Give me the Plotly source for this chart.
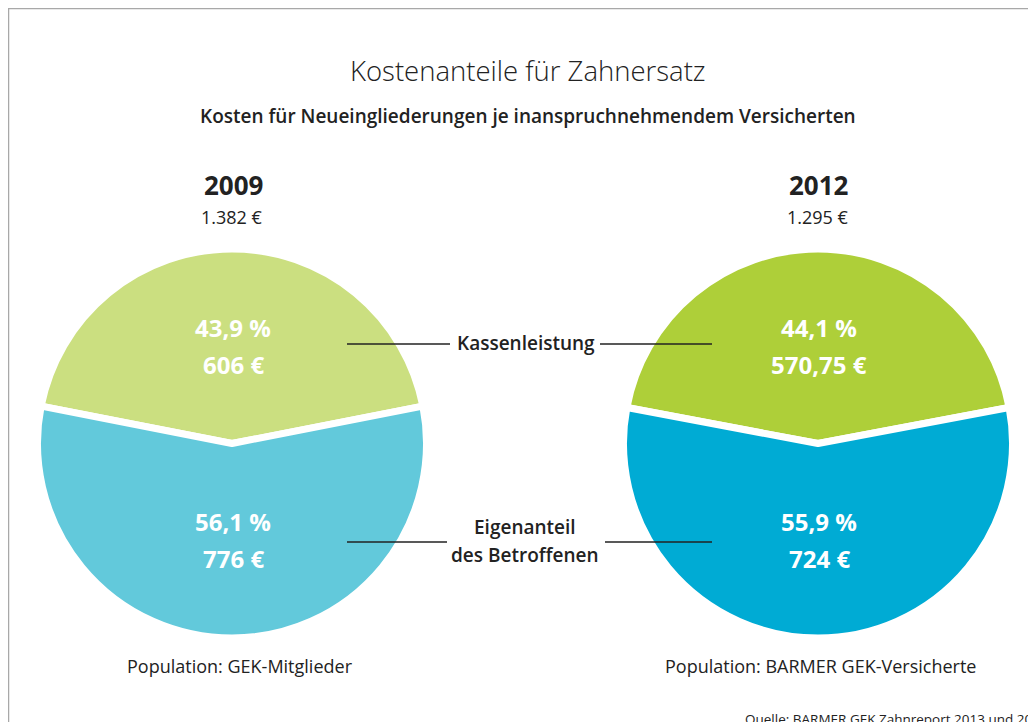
import plotly.graph_objects as go

# page is rendered with an 8px body margin, so the figure is offset by 8px
OFF = 8
W, H = 1036 - OFF, 722 - OFF

# ---- data ----
categories = ["Kassenleistung", "Eigenanteil des Betroffenen"]
years = ["2009", "2012"]
totals = ["1.382 €", "1.295 €"]
values_2009 = [606, 776]
values_2012 = [570.75, 724]
pct_2009 = ["43,9 %", "56,1 %"]
pct_2012 = ["44,1 %", "55,9 %"]
eur_2009 = ["606 €", "776 €"]
eur_2012 = ["570,75 €", "724 €"]
colors_2009 = ["#CBDF80", "#62C9DB"]
colors_2012 = ["#AECF39", "#00ABD4"]
populations = ["Population: GEK-Mitglieder", "Population: BARMER GEK-Versicherte"]
source = "Quelle: BARMER GEK Zahnreport 2013 und 2014"
title = "Kostenanteile für Zahnersatz"
subtitle = "Kosten für Neueingliederungen je inanspruchnehmendem Versicherten"

FONT = "Open Sans"
DARK = "#222222"


def px(x):
    return (x - OFF) / W


def py(y):
    return (H - (y - OFF)) / H


R = 194.5
centers = [(232, 443.5), (818, 443.5)]
pop_x = [240, 820]

fig = go.Figure()
for (cx, cy), vals, cols in zip(centers, [values_2009, values_2012], [colors_2009, colors_2012]):
    half = 180 * vals[0] / sum(vals)
    fig.add_trace(go.Pie(
        labels=categories, values=vals, sort=False, direction="clockwise",
        rotation=-half,
        marker=dict(colors=cols, line=dict(color="white", width=7)),
        textinfo="none", hoverinfo="skip", showlegend=False,
        domain=dict(x=[px(cx - R), px(cx + R)], y=[py(cy + R), py(cy - R)]),
    ))

ann = []


def add_text(x, y, text, size, weight=400, color=DARK, xanchor="center"):
    ann.append(dict(x=px(x), y=py(y), xref="paper", yref="paper", text=text,
                    showarrow=False, xanchor=xanchor, yanchor="middle",
                    font=dict(family=FONT, size=size, color=color, weight=weight)))


add_text(528, 70, title, 27.5, 300)
add_text(528, 116, subtitle, 19, 600)

for (cx, cy), ppx, yr, tot, pcts, eurs, pop in zip(
        centers, pop_x, years, totals, [pct_2009, pct_2012], [eur_2009, eur_2012], populations):
    add_text(cx + 1, 185, yr, 26, 700)
    add_text(cx, 217, tot, 18, 400)
    add_text(cx + 1, 327, pcts[0], 24, 700, "white")
    add_text(cx + 1, 364, eurs[0], 24, 700, "white")
    add_text(cx + 1, 521, pcts[1], 24, 700, "white")
    add_text(cx + 1, 558, eurs[1], 24, 700, "white")
    add_text(ppx, 666, pop, 18, 400)

add_text(526, 343, categories[0], 19, 600)
add_text(525, 527, "Eigenanteil", 19, 600)
add_text(525, 555, "des Betroffenen", 19, 600)
add_text(743, 719, source, 13.5, 400, xanchor="left")

shapes = []
for y, x0, x1, x2, x3 in [(344, 347, 450, 600, 712), (542, 347, 447, 605, 712)]:
    for a, b in [(x0, x1), (x2, x3)]:
        shapes.append(dict(type="line", xref="paper", yref="paper",
                           x0=px(a), x1=px(b), y0=py(y), y1=py(y),
                           line=dict(color=DARK, width=1.3)))
# frame (top and left edges)
shapes.append(dict(type="line", xref="paper", yref="paper", x0=0, x1=1.01,
                   y0=py(8.5), y1=py(8.5), line=dict(color="#A8A8A8", width=1.5)))
shapes.append(dict(type="line", xref="paper", yref="paper", x0=px(8.5), x1=px(8.5),
                   y0=-0.01, y1=1, line=dict(color="#A8A8A8", width=1.5)))

fig.update_layout(
    width=W, height=H, margin=dict(l=0, r=0, t=0, b=0),
    paper_bgcolor="white", plot_bgcolor="white",
    annotations=ann, shapes=shapes,
    font=dict(family=FONT, color=DARK),
)

fig.write_html("out.html")
